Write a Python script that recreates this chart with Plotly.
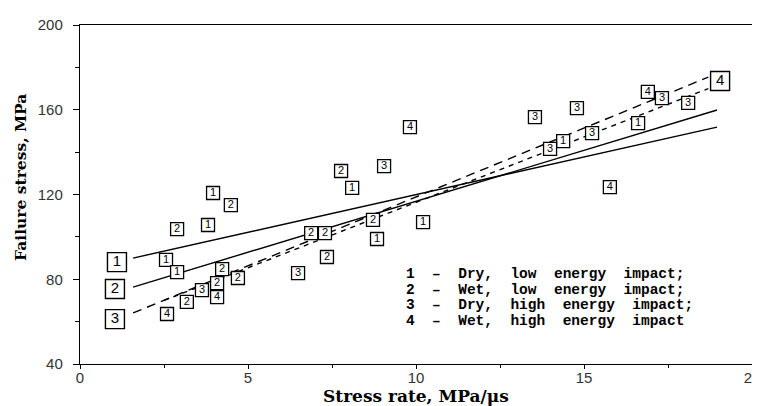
import plotly.graph_objects as go

# ---- data ----
s1_x = [3.96, 3.81, 2.56, 2.89, 8.10, 8.84, 10.21, 16.61, 14.38]
s1_y = [120.7, 105.6, 89.1, 83.4, 123.1, 99.0, 107.0, 153.7, 145.2]

s2_x = [4.49, 2.89, 7.77, 4.23, 4.08, 4.70, 3.18, 7.35, 6.88, 7.29, 8.72]
s2_y = [115.0, 103.7, 131.1, 84.8, 78.2, 80.6, 69.3, 90.5, 101.8, 101.8, 108.0]

s3_x = [3.63, 6.49, 9.05, 13.54, 14.79, 15.24, 17.32, 18.10, 13.99]
s3_y = [74.9, 82.9, 133.4, 156.5, 160.8, 149.0, 165.5, 163.2, 141.5]

s4_x = [2.59, 4.08, 9.82, 15.77, 16.90]
s4_y = [63.6, 71.6, 151.8, 123.5, 168.4]

series_names = ["1", "2", "3", "4"]

# regression lines: start/end
fit_x0 = [1.58, 1.58, 1.58, 2.50]
fit_y0 = [90.0, 76.3, 64.1, 70.0]
fit_x1 = [18.96, 18.96, 18.70, 18.70]
fit_y1 = [151.8, 159.9, 175.4, 170.0]

# line labels (large boxes)
lab_x = [1.10, 1.04, 1.04, 19.05]
lab_y = [88.1, 75.4, 61.2, 173.6]

legend_lines = [
    "1  \u2013  Dry,  low  energy  impact;",
    "2  \u2013  Wet,  low  energy  impact;",
    "3  \u2013  Dry,  high  energy  impact;",
    "4  \u2013  Wet,  high  energy  impact",
]

x_ticks = [0, 5, 10, 15, 20]
y_ticks = [40, 80, 120, 160, 200]

# ---- figure ----
fig = go.Figure()

dash_styles = ["solid", "solid", "9px,6px", "5px,5px"]
for i in range(4):
    fig.add_trace(go.Scatter(
        x=[fit_x0[i], fit_x1[i]], y=[fit_y0[i], fit_y1[i]],
        mode="lines", line=dict(color="black", width=1.4, dash=dash_styles[i]),
        hoverinfo="skip", showlegend=False))

for name, xs, ys in zip(series_names, [s1_x, s2_x, s3_x, s4_x], [s1_y, s2_y, s3_y, s4_y]):
    fig.add_trace(go.Scatter(
        x=xs, y=ys, mode="markers+text", text=[name] * len(xs),
        textposition="middle center",
        textfont=dict(family="Liberation Sans, Arial", size=11, color="black"),
        marker=dict(symbol="square", size=13, color="white",
                    line=dict(color="black", width=1.3)),
        showlegend=False, name=name))

fig.add_trace(go.Scatter(
    x=lab_x, y=lab_y, mode="markers+text", text=series_names,
    textposition="middle center",
    textfont=dict(family="Liberation Sans, Arial", size=15, color="black"),
    marker=dict(symbol="square", size=19, color="white",
                line=dict(color="black", width=1.4)),
    showlegend=False))

legend_y_px = [274, 289.5, 305, 320.5]
for txt, py in zip(legend_lines, legend_y_px):
    fig.add_annotation(
        xref="paper", yref="paper", x=(404 - 80) / 672, y=(364 - py) / 339,
        xanchor="left", yanchor="middle", showarrow=False, text=txt,
        font=dict(family="Liberation Mono, Courier New", size=14.5, color="black", weight="bold"))

fig.add_annotation(
    xref="paper", yref="paper", x=0.5, y=0, yanchor="middle", yshift=-32,
    showarrow=False, text="Stress rate, MPa/\u03bcs",
    font=dict(family="DejaVu Serif", size=17, color="black", weight="bold"))
fig.add_annotation(
    xref="paper", yref="paper", x=0, y=0.549, xanchor="center", xshift=-59,
    showarrow=False, text="Failure stress, MPa", textangle=-90,
    font=dict(family="DejaVu Serif", size=15.5, color="black", weight="bold"))

fig.update_xaxes(
    range=[0, 20], tickvals=x_ticks, ticktext=[str(v) for v in x_ticks],
    showline=True, linecolor="black", linewidth=1.4, mirror=True,
    ticks="outside", ticklen=4, tickcolor="black", ticklabelstandoff=-4,
    ticklabeloverflow="allow",
    minor=dict(dtick=2.5, ticks="outside", ticklen=3, tickcolor="black"),
    showgrid=False, zeroline=False, automargin=False,
    tickfont=dict(family="Liberation Sans, Arial", size=15, color="#333"))
fig.update_yaxes(
    range=[40, 200], tickvals=y_ticks, ticktext=[str(v) for v in y_ticks],
    showline=True, linecolor="black", linewidth=1.4, mirror=True,
    ticks="outside", ticklen=6, tickcolor="black", ticklabelstandoff=7,
    ticklabeloverflow="allow",
    minor=dict(dtick=20, ticks="outside", ticklen=4, tickcolor="black"),
    showgrid=False, zeroline=False, automargin=False,
    tickfont=dict(family="Liberation Sans, Arial", size=15, color="#333"))

# the page body has an 8px margin, so the figure is sized and offset to fit
fig.update_layout(
    width=752, height=398,
    margin=dict(l=72, r=8, t=17, b=42, autoexpand=False),
    plot_bgcolor="white", paper_bgcolor="white",
)

fig.write_html("out.html")
